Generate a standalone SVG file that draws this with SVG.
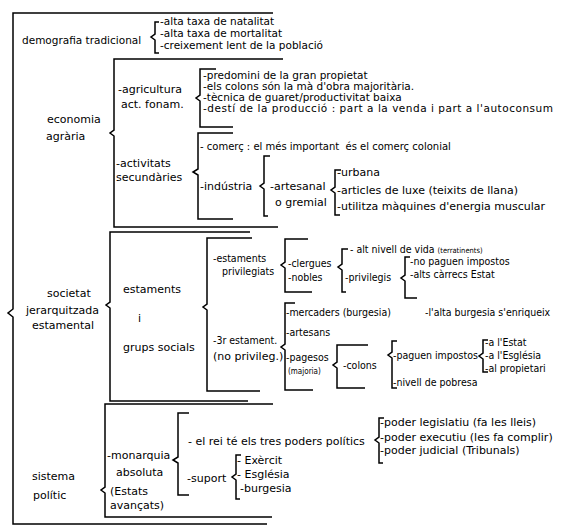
<svg xmlns="http://www.w3.org/2000/svg" width="567" height="532" viewBox="0 0 567 532">
<style>
.t{font-family:"DejaVu Sans",sans-serif;font-size:11px;fill:#000}
.f{font-size:10.5px}
.c{font-family:"DejaVu Sans Condensed","DejaVu Sans",sans-serif;font-stretch:condensed;font-size:10.5px;fill:#000}
.sm{font-family:"DejaVu Sans Condensed","DejaVu Sans",sans-serif;font-stretch:condensed;font-size:8px;fill:#000}
.pre{white-space:pre}
.b{fill:none;stroke:#000;stroke-width:1.5;stroke-linejoin:miter}
</style>
<rect width="567" height="532" fill="#fff"/>
<g id="connectors">
<path class="b" d="M273,13 H13 V309 L8,313 L13,317 V524 H267"/>
<path class="b" d="M159,22 H155 V34 L151,37 L155,40 V53 H159"/>
<path class="b" d="M283,59 H114 V130 L110,133 L114,136 V227 H278"/>
<path class="b" d="M216,69 H200 V95 L196,98 L200,101 V127 H233"/>
<path class="b" d="M233,133 H198 V169 L193,172 L198,175 V219 H233"/>
<path class="b" d="M270,156 H264 V183 L260,186 L264,189 V216 H268"/>
<path class="b" d="M341,170 H335 V187 L331,190 L335,193 V215 H340"/>
<path class="b" d="M250,232 H110 V302 L106,305 L110,308 V401 H248"/>
<path class="b" d="M252,238 H207 V304 L203,307 L207,310 V391 H260"/>
<path class="b" d="M308,239 H285 V262 L281,265 L285,268 V292 H312"/>
<path class="b" d="M348,249 H342 V264 L338,267 L342,270 V292 H346"/>
<path class="b" d="M410,257 H405 V275 L401,278 L405,281 V298 H417"/>
<path class="b" d="M295,303 H285 V344 L281,347 L285,350 V390 H313"/>
<path class="b" d="M368,345 H337 V362 L333,365 L337,368 V388 H365"/>
<path class="b" d="M397,341 H392 V352 L388,355 L392,358 V388 H397"/>
<path class="b" d="M488,340 H483 V353 L479,356 L483,359 V372 H488"/>
<path class="b" d="M273,404 H105 V487 L101,490 L105,493 V517 H272"/>
<path class="b" d="M189,413 H178 V457 L173,460 L178,463 V495 H189"/>
<path class="b" d="M241,455 H236 V474 L232,477 L236,480 V499 H240"/>
<path class="b" d="M384,418 H379 V437 L375,440 L379,443 V463 H383"/>
</g>
<g id="demografia">
<text class="t f" x="22" y="44">demografia tradicional</text>
<text class="t f" x="160" y="25">-alta taxa de natalitat</text>
<text class="t f" x="160" y="37">-alta taxa de mortalitat</text>
<text class="t f" x="160" y="49">-creixement lent de la població</text>
</g>
<g id="economia">
<text class="t" x="47" y="123">economia</text>
<text class="t" x="46" y="140">agrària</text>
</g>
<g id="agricultura">
<text class="t" x="118" y="93">-agricultura</text>
<text class="t" x="121" y="108">act. fonam.</text>
</g>
<g id="agricultura-items">
<text class="t f" x="203" y="79">-predomini de la gran propietat</text>
<text class="t f" x="203" y="90">-els colons són la mà d'obra majoritària.</text>
<text class="t f" x="203" y="101">-tècnica de guaret/productivitat baixa</text>
<text class="t f" x="203" y="112" textLength="350" lengthAdjust="spacing">-destí de la producció : part a la venda i part a l'autoconsum</text>
</g>
<g id="activitats">
<text class="t" x="116" y="167">-activitats</text>
<text class="t" x="116" y="181">secundàries</text>
</g>
<g id="comerc">
<text class="t pre" x="200" y="150" style="font-size:10px">- comerç : el més important  és el comerç colonial</text>
</g>
<g id="industria">
<text class="t" x="200" y="190">-indústria</text>
</g>
<g id="artesanal">
<text class="t" x="270" y="190">-artesanal</text>
<text class="t" x="275" y="206">o gremial</text>
</g>
<g id="artesanal-items">
<text class="t" x="337" y="176">-urbana</text>
<text class="t" x="337" y="194">-articles de luxe (teixits de llana)</text>
<text class="t" x="337" y="210">-utilitza màquines d'energia muscular</text>
</g>
<g id="societat">
<text class="t" x="47" y="297">societat</text>
<text class="t" x="26" y="314">jerarquitzada</text>
<text class="t" x="32" y="329">estamental</text>
</g>
<g id="estaments-grups">
<text class="t" x="123" y="293">estaments</text>
<text class="t" x="138" y="322">i</text>
<text class="t" x="123" y="351">grups socials</text>
</g>
<g id="privilegiats">
<text class="c" x="213" y="262">-estaments</text>
<text class="c" x="222" y="275">privilegiats</text>
</g>
<g id="clergues-nobles">
<text class="c" x="288" y="267">-clergues</text>
<text class="c" x="288" y="281">-nobles</text>
</g>
<g id="alt-nivell">
<text class="c" x="350" y="253">- alt nivell de vida <tspan font-size="7.5">(terratinents)</tspan></text>
</g>
<g id="privilegis">
<text class="c" x="345" y="281">-privilegis</text>
</g>
<g id="privilegis-items">
<text class="c" x="410" y="265">-no paguen impostos</text>
<text class="c" x="410" y="278">-alts càrrecs Estat</text>
</g>
<g id="tercer-estament">
<text class="c" x="213" y="344">-3r estament.</text>
<text class="t" x="213" y="360">(no privileg.)</text>
</g>
<g id="mercaders">
<text class="c" x="286" y="316">-mercaders (burgesia)</text>
<text class="c" x="425" y="316">-l'alta burgesia s'enriqueix</text>
</g>
<g id="artesans">
<text class="c" x="286" y="336">-artesans</text>
</g>
<g id="pagesos">
<text class="c" x="286" y="361">-pagesos</text>
<text class="sm" x="288" y="374">(majoria)</text>
</g>
<g id="colons">
<text class="c" x="343" y="369">-colons</text>
</g>
<g id="colons-items">
<text class="c" x="393" y="359">-paguen impostos</text>
<text class="c" x="393" y="386">-nivell de pobresa</text>
</g>
<g id="impostos-items">
<text class="c" x="485" y="346">-a l'Estat</text>
<text class="c" x="485" y="359">-a l'Església</text>
<text class="c" x="485" y="372">-al propietari</text>
</g>
<g id="sistema">
<text class="t" x="32" y="480">sistema</text>
<text class="t" x="33" y="499">polític</text>
</g>
<g id="monarquia">
<text class="t" x="107" y="459">-monarquia</text>
<text class="t" x="116" y="476">absoluta</text>
<text class="t" x="110" y="495">(Estats</text>
<text class="t" x="110" y="509">avançats)</text>
</g>
<g id="rei">
<text class="t" x="188" y="445">- el rei té els tres poders polítics</text>
</g>
<g id="suport">
<text class="t" x="187" y="482">-suport</text>
</g>
<g id="suport-items">
<text class="t" x="237" y="464">- Exèrcit</text>
<text class="t" x="237" y="478">- Església</text>
<text class="t" x="240" y="492">-burgesia</text>
</g>
<g id="poders">
<text class="t" x="380" y="426">-poder legislatiu (fa les lleis)</text>
<text class="t" x="380" y="441">-poder executiu (les fa complir)</text>
<text class="t" x="380" y="454">-poder judicial (Tribunals)</text>
</g>
</svg>
